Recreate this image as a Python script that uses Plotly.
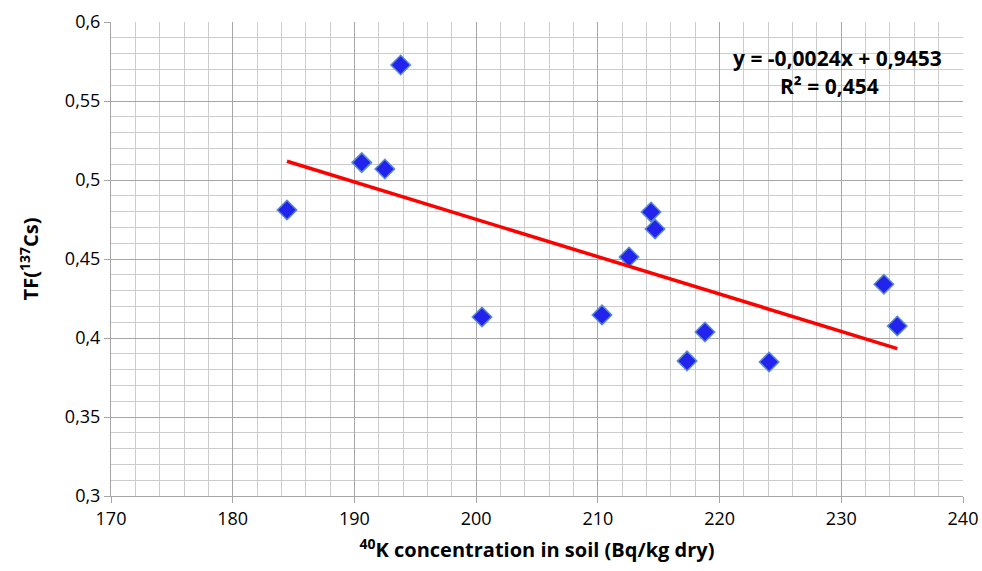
import numpy as np
import plotly.graph_objects as go

k40 = [184.46, 190.6, 192.5, 193.8, 200.48, 210.34, 212.56, 214.37, 214.70, 217.33, 218.8, 224.07, 233.5, 234.6]
tf_cs = [0.481, 0.511, 0.507, 0.5728, 0.4133, 0.4146, 0.4513, 0.4797, 0.469, 0.3855, 0.4038, 0.3848, 0.434, 0.4076]

slope, intercept = np.polyfit(k40, tf_cs, 1)
x_fit = [min(k40), max(k40)]
y_fit = [slope * v + intercept for v in x_fit]

eq_text = "<b>y = -0,0024x + 0,9453</b>"
r2_text = "<b>R² = 0,454</b>"

font_family = "Open Sans, Lato, sans-serif"

fig = go.Figure()
fig.add_trace(go.Scatter(
    x=k40, y=tf_cs, mode="markers",
    marker=dict(symbol="diamond", size=15, color="#2323ee",
                line=dict(color="#5b8ccf", width=1.5)),
    showlegend=False, hoverinfo="x+y"))
fig.add_trace(go.Scatter(
    x=x_fit, y=y_fit, mode="lines",
    line=dict(color="#ff0000", width=3.5),
    showlegend=False, hoverinfo="skip"))

fig.add_annotation(x=0.978, y=0.925, xref="paper", yref="paper", text=eq_text,
                   xanchor="right", yanchor="middle",
                   showarrow=False, font=dict(size=21, family=font_family, color="#000"))
fig.add_annotation(x=0.843, y=0.865, xref="paper", yref="paper", text=r2_text,
                   xanchor="center", yanchor="middle",
                   showarrow=False, font=dict(size=21, family=font_family, color="#000"))

fig.update_layout(
    width=982, height=571,
    margin=dict(l=111, r=19, t=22, b=75),
    paper_bgcolor="white", plot_bgcolor="white",
    separators=",.",
    font=dict(family=font_family, size=18, color="#000"),
    xaxis=dict(
        range=[170, 240], dtick=10, tick0=170,
        automargin=False,
        showgrid=True, gridcolor="#a6a6a6", gridwidth=1,
        minor=dict(dtick=2, showgrid=True, gridcolor="#cccccc", gridwidth=1),
        ticks="outside", ticklen=6, tickcolor="#a6a6a6",
        showline=True, linecolor="#a6a6a6", linewidth=1,
        zeroline=False,
        tickfont=dict(size=18, family=font_family),
        title=dict(text="<b><sup>40</sup>K concentration in soil (Bq/kg dry)</b>",
                   font=dict(size=20, family=font_family), standoff=14),
    ),
    yaxis=dict(
        range=[0.3, 0.6], dtick=0.05, tick0=0.3,
        automargin=False,
        showgrid=True, gridcolor="#a6a6a6", gridwidth=1,
        minor=dict(dtick=0.01, showgrid=True, gridcolor="#cccccc", gridwidth=1),
        ticks="outside", ticklen=6, tickcolor="#a6a6a6",
        showline=True, linecolor="#a6a6a6", linewidth=1,
        zeroline=False,
        tickfont=dict(size=18, family=font_family),
        title=dict(text="<b>TF(<sup>137</sup>Cs)</b>",
                   font=dict(size=20, family=font_family), standoff=20),
    ),
)

fig.write_html("out.html")
